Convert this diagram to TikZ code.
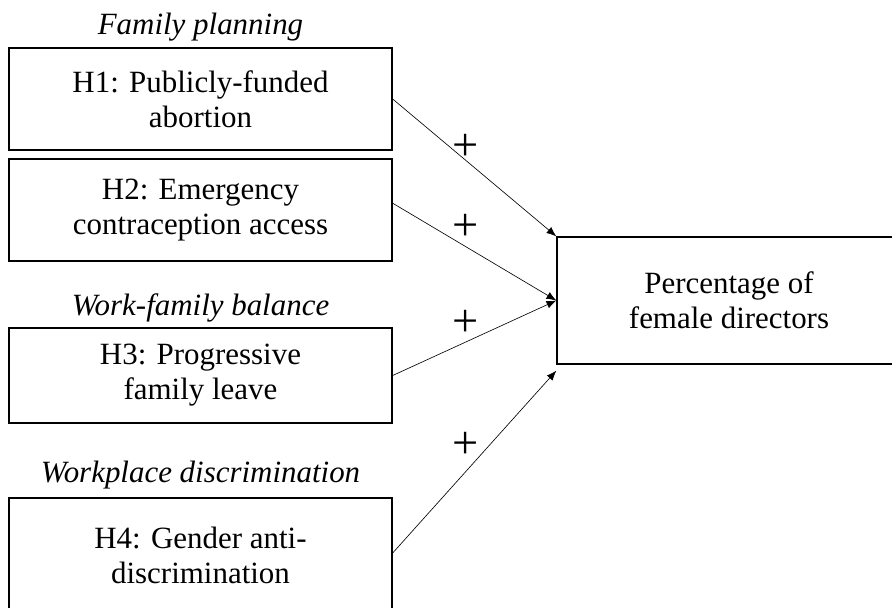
\documentclass[tikz,border=0pt]{standalone}
\usepackage{fontspec}
\setmainfont{Liberation Serif}
\usetikzlibrary{arrows.meta}

\begin{document}
\begin{tikzpicture}[x=0.025cm,y=-0.025cm,txt/.style={font=\fontsize{22}{25}\selectfont},hyp/.style={txt,shape=rectangle,draw=black,line width=0.9pt,minimum width=9.575cm,align=center},head/.style={font=\fontsize{22}{25}\selectfont\itshape},sign/.style={font=\fontsize{33}{33}\selectfont,inner sep=0pt},link/.style={-{Latex[length=7pt,width=5.5pt]},line width=0.45pt}]
\def\hx{200.5};
\def\px{466};

\useasboundingbox (0,0) rectangle (892,607);

\node[head] (fp) at (\hx,27) {Family planning};
\node[hyp,minimum height=2.55cm] (h1) at (\hx,99) {H1: Publicly-funded\\abortion};
\node[hyp,minimum height=2.55cm] (h2) at (\hx,210) {H2: Emergency\\contraception access};

\node[head] (wfb) at (\hx,308) {Work-family balance};
\node[hyp,minimum height=2.375cm] (h3) at (\hx,375.5) {H3: Progressive\\family leave};

\node[head] (wd) at (\hx,475) {Workplace discrimination};
\node[hyp,minimum height=2.85cm] (h4) at (\hx,555) {H4: Gender anti-\\discrimination};

\node[hyp,minimum width=8.6cm,minimum height=3.175cm] (pfd) at (729,300.5) {Percentage of\\female directors};

\draw[link] (h1.east) -- (pfd.north west);
\draw[link] ([yshift=0.17cm]h2.east) -- (pfd.west);
\draw[link] (h3.east) -- (pfd.west);
\draw[link] ([yshift=0.05cm]h4.east) -- ([yshift=-0.15cm]pfd.south west);

\node[sign] (p1) at (\px,147) {+};
\node[sign] (p2) at (\px,227) {+};
\node[sign] (p3) at (\px,323) {+};
\node[sign] (p4) at (\px,445) {+};
\end{tikzpicture}
\end{document}
